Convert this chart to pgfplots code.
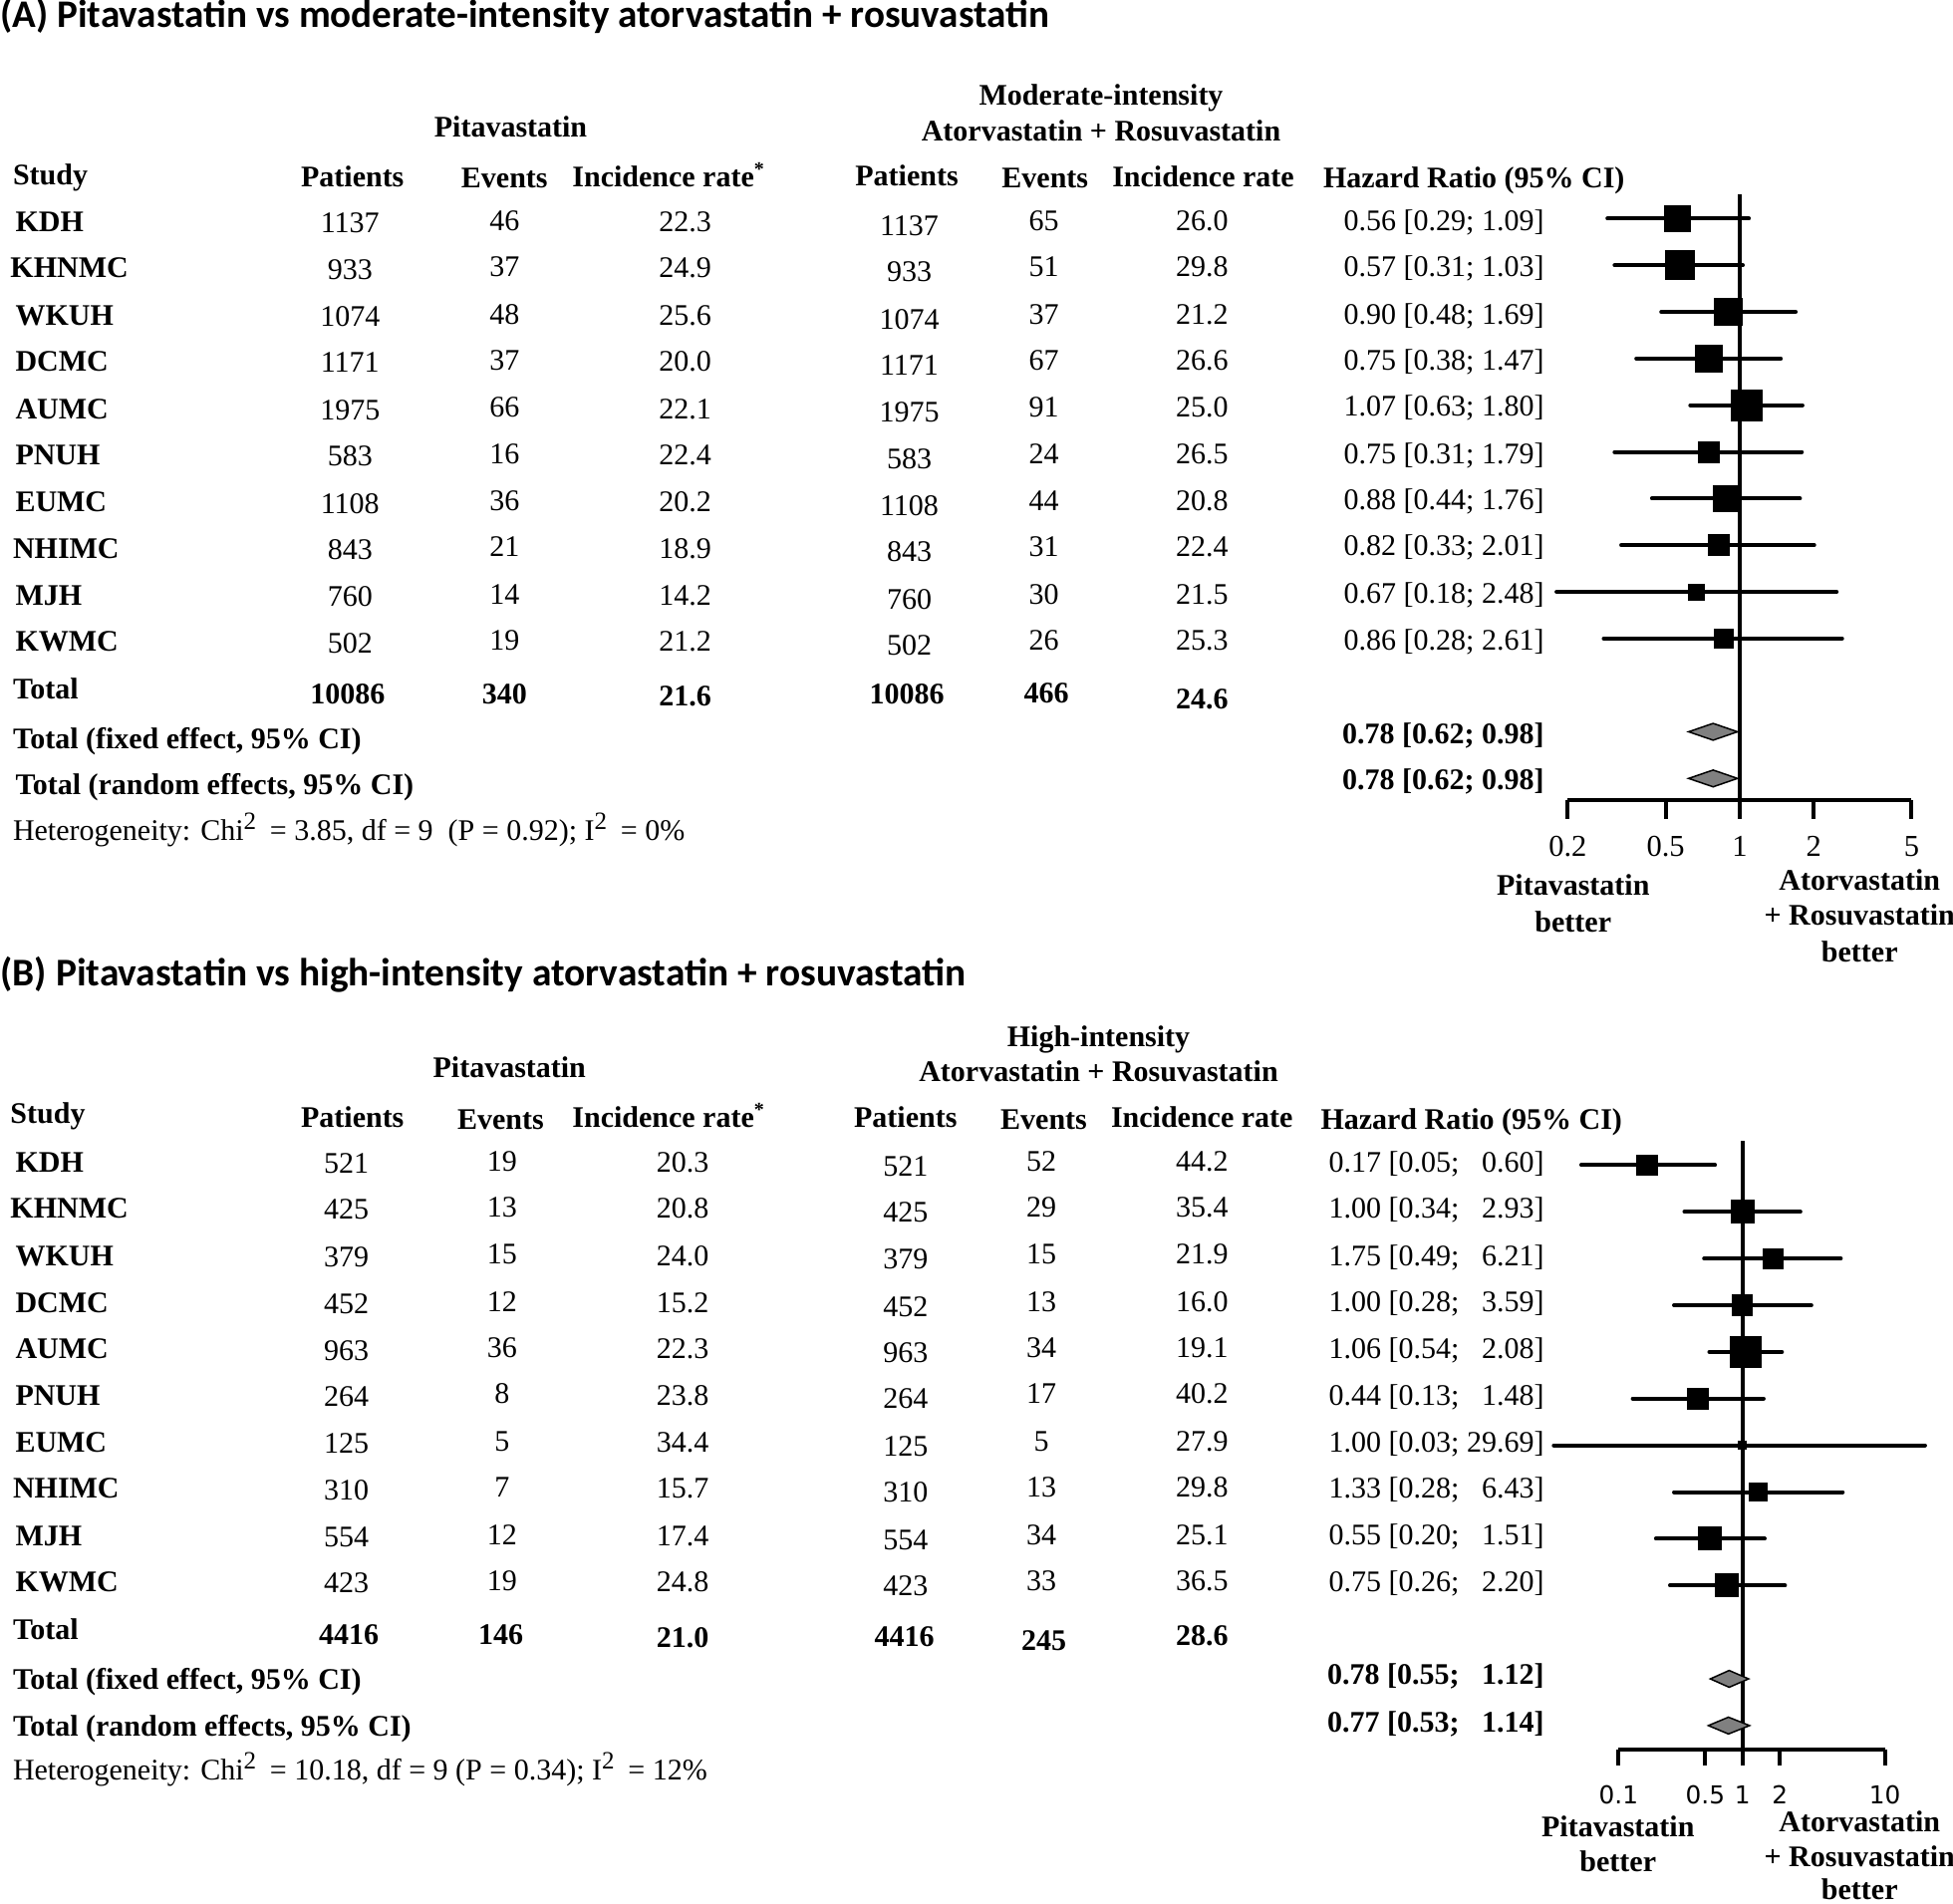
\documentclass[border=0pt]{standalone}
\usepackage{pgfplots}
\pgfplotsset{compat=1.18}
\usepackage{fontspec}
\setmainfont{Liberation Serif}
\newfontfamily\carlito{Carlito}
\newfontfamily\dejavu{DejaVu Sans}
\newcommand\ctext[3]{\node[anchor=base,inner sep=0pt] at ({#1*0.5pt},{-(#2+8)*0.5pt}) {#3};}
\newcommand\ltext[3]{\node[anchor=base west,inner sep=0pt] at ({#1*0.5pt},{-(#2+8)*0.5pt}) {#3};}
\newcommand\rtext[3]{\node[anchor=base east,inner sep=0pt] at ({#1*0.5pt},{-(#2+8)*0.5pt}) {#3};}
\newcommand\sq{\textsuperscript{\fontsize{10}{10}\selectfont 2}\,}
% y, name x, name, p1, e1, i1, p2, e2, i2
\newcommand\datarow[9]{%
 \ltext{#2}{#1}{\bfseries #3}%
 \ctext{\cPa}{#1+1}{#4}%
 \ctext{\cEa}{#1-1}{#5}%
 \ctext{\cIa}{#1}{#6}%
 \ctext{\cPb}{#1+3}{#7}%
 \ctext{\cEb}{#1-1}{#8}%
 \ctext{\cIb}{#1-1}{#9}}
% row, hr, lo, hi, mark size
\newcommand\hrrow[5]{\addplot[black, line width=1.6pt, line cap=round, mark=square*, mark size=#5pt, mark indices={2}, mark options={draw=none, fill=black}] coordinates {(#3,-#1) (#2,-#1) (#4,-#1)};}
\begin{document}
\begin{tikzpicture}[every node/.style={font=\fontsize{12}{14}\selectfont}]
\useasboundingbox (0,0) rectangle (784pt,-764pt);
% ---------------- Panel A ----------------
\node[anchor=base west, inner sep=0pt, font=\carlito\bfseries\fontsize{15.65}{18}\selectfont] at (0pt,-10.9pt) {(A) Pitavastatin vs moderate-intensity atorvastatin + rosuvastatin};
\ctext{410}{102}{\bfseries Pitavastatin}
\ctext{884}{76}{\bfseries Moderate-intensity}
\ctext{884}{105}{\bfseries Atorvastatin + Rosuvastatin}
\ltext{10}{140}{\bfseries Study}
\ctext{283}{142}{\bfseries Patients}
\ctext{405}{143}{\bfseries Events}
\ctext{537}{142}{\bfseries Incidence rate\textsuperscript{*}}
\ctext{728}{141}{\bfseries Patients}
\ctext{839}{143}{\bfseries Events}
\ctext{966}{142}{\bfseries Incidence rate}
\ltext{1062}{143}{\bfseries Hazard Ratio (95\% CI)}
\def\cPa{281}\def\cEa{405}\def\cIa{550}\def\cPb{730}\def\cEb{838}\def\cIb{965}
\datarow{178}{12}{KDH}{1137}{46}{22.3}{1137}{65}{26.0}
\datarow{215}{8}{KHNMC}{933}{37}{24.9}{933}{51}{29.8}
\datarow{253}{12}{WKUH}{1074}{48}{25.6}{1074}{37}{21.2}
\datarow{290}{12}{DCMC}{1171}{37}{20.0}{1171}{67}{26.6}
\datarow{328}{12}{AUMC}{1975}{66}{22.1}{1975}{91}{25.0}
\datarow{365}{12}{PNUH}{583}{16}{22.4}{583}{24}{26.5}
\datarow{403}{12}{EUMC}{1108}{36}{20.2}{1108}{44}{20.8}
\datarow{440}{10}{NHIMC}{843}{21}{18.9}{843}{31}{22.4}
\datarow{478}{12}{MJH}{760}{14}{14.2}{760}{30}{21.5}
\datarow{515}{12}{KWMC}{502}{19}{21.2}{502}{26}{25.3}
\ltext{10}{553}{\bfseries Total}
\ctext{279}{557}{\bfseries 10086}
\ctext{405}{557}{\bfseries 340}
\ctext{550}{559}{\bfseries 21.6}
\ctext{728}{557}{\bfseries 10086}
\ctext{840}{556}{\bfseries 466}
\ctext{965}{561}{\bfseries 24.6}
\ltext{10}{593}{\bfseries Total (fixed effect, 95\% CI)}
\ltext{12}{630}{\bfseries Total (random effects, 95\% CI)}
\ltext{10}{667}{Heterogeneity: Chi\sq\ = 3.85, df = 9\enspace(P = 0.92); I\sq\ = 0\%}
\rtext{1240}{177}{0.56 [0.29; 1.09]}
\rtext{1240}{214}{0.57 [0.31; 1.03]}
\rtext{1240}{252}{0.90 [0.48; 1.69]}
\rtext{1240}{289}{0.75 [0.38; 1.47]}
\rtext{1240}{326}{1.07 [0.63; 1.80]}
\rtext{1240}{364}{0.75 [0.31; 1.79]}
\rtext{1240}{401}{0.88 [0.44; 1.76]}
\rtext{1240}{438}{0.82 [0.33; 2.01]}
\rtext{1240}{476}{0.67 [0.18; 2.48]}
\rtext{1240}{514}{0.86 [0.28; 2.61]}
\rtext{1240}{589}{\bfseries 0.78 [0.62; 0.98]}
\rtext{1240}{626}{\bfseries 0.78 [0.62; 0.98]}
\begin{axis}[at={(629.35pt,-321.35pt)}, anchor=south west,
  scale only axis, width=138pt, height=243.35pt, clip=false,
  xmode=log, log basis x=10,
  xmin=0.2, xmax=5, ymin=-13.472, ymax=-0.479,
  axis x line*=bottom, axis y line=none,
  x axis line style={-, line width=1.6pt},
  tick align=outside, xminorticks=false,
  tick style={line width=1.6pt, black},
  major tick length=7.3pt,
  xtick={0.2,0.5,1,2,5}, xticklabels={\mbox{0.2},\mbox{0.5},\mbox{1},\mbox{2},\mbox{5}},
  xticklabel style={anchor=center, inner sep=0pt, font=\fontsize{12.2}{13}\selectfont, yshift=-11.1pt}]
\addplot[black, line width=1.4pt] coordinates {(1,-0.479) (1,-13.472)};
\hrrow{1}{0.56}{0.29}{1.09}{4.65}
\hrrow{2}{0.57}{0.31}{1.03}{5.15}
\hrrow{3}{0.90}{0.48}{1.69}{4.9}
\hrrow{4}{0.75}{0.38}{1.47}{4.7}
\hrrow{5}{1.07}{0.63}{1.80}{5.65}
\hrrow{6}{0.75}{0.31}{1.79}{3.6}
\hrrow{7}{0.88}{0.44}{1.76}{4.6}
\hrrow{8}{0.82}{0.33}{2.01}{3.6}
\hrrow{9}{0.67}{0.18}{2.48}{2.6}
\hrrow{10}{0.86}{0.28}{2.61}{3.2}
\addplot[fill=gray, draw=black, line width=0.6pt] coordinates {(0.62,-12) (0.78,-11.82) (0.98,-12) (0.78,-12.18)} -- cycle;
\addplot[fill=gray, draw=black, line width=0.6pt] coordinates {(0.62,-13) (0.78,-12.82) (0.98,-13) (0.78,-13.18)} -- cycle;
\end{axis}
\ctext{1263}{711}{\bfseries Pitavastatin}
\ctext{1263}{740}{\bfseries better}
\ctext{1493}{706.5}{\bfseries Atorvastatin}
\ctext{1493}{734.5}{\bfseries + Rosuvastatin}
\ctext{1493}{764}{\bfseries better}
% ---------------- Panel B ----------------
\node[anchor=base west, inner sep=0pt, font=\carlito\bfseries\fontsize{15.75}{18}\selectfont] at (0pt,-395.9pt) {(B) Pitavastatin vs high-intensity atorvastatin + rosuvastatin};
\ctext{409}{857}{\bfseries Pitavastatin}
\ctext{882}{832}{\bfseries High-intensity}
\ctext{882}{860}{\bfseries Atorvastatin + Rosuvastatin}
\ltext{8}{894}{\bfseries Study}
\ctext{283}{897}{\bfseries Patients}
\ctext{402}{899}{\bfseries Events}
\ctext{537}{897}{\bfseries Incidence rate\textsuperscript{*}}
\ctext{727}{897}{\bfseries Patients}
\ctext{838}{899}{\bfseries Events}
\ctext{965}{897}{\bfseries Incidence rate}
\ltext{1060}{899}{\bfseries Hazard Ratio (95\% CI)}
\def\cPa{278}\def\cEa{403}\def\cIa{548}\def\cPb{727}\def\cEb{836}\def\cIb{965}
\datarow{933}{12}{KDH}{521}{19}{20.3}{521}{52}{44.2}
\datarow{970}{8}{KHNMC}{425}{13}{20.8}{425}{29}{35.4}
\datarow{1008}{12}{WKUH}{379}{15}{24.0}{379}{15}{21.9}
\datarow{1046}{12}{DCMC}{452}{12}{15.2}{452}{13}{16.0}
\datarow{1083}{12}{AUMC}{963}{36}{22.3}{963}{34}{19.1}
\datarow{1120}{12}{PNUH}{264}{8}{23.8}{264}{17}{40.2}
\datarow{1158}{12}{EUMC}{125}{5}{34.4}{125}{5}{27.9}
\datarow{1195}{10}{NHIMC}{310}{7}{15.7}{310}{13}{29.8}
\datarow{1233}{12}{MJH}{554}{12}{17.4}{554}{34}{25.1}
\datarow{1270}{12}{KWMC}{423}{19}{24.8}{423}{33}{36.5}
\ltext{10}{1308}{\bfseries Total}
\ctext{280}{1312}{\bfseries 4416}
\ctext{402}{1312}{\bfseries 146}
\ctext{548}{1315}{\bfseries 21.0}
\ctext{726}{1314}{\bfseries 4416}
\ctext{838}{1317}{\bfseries 245}
\ctext{965}{1313}{\bfseries 28.6}
\ltext{10}{1348}{\bfseries Total (fixed effect, 95\% CI)}
\ltext{10}{1386}{\bfseries Total (random effects, 95\% CI)}
\ltext{10}{1421}{Heterogeneity: Chi\sq\ = 10.18, df = 9 (P = 0.34); I\sq\ = 12\%}
\rtext{1240}{933}{0.17 [0.05; \phantom{0}0.60]}
\rtext{1240}{970}{1.00 [0.34; \phantom{0}2.93]}
\rtext{1240}{1008}{1.75 [0.49; \phantom{0}6.21]}
\rtext{1240}{1045}{1.00 [0.28; \phantom{0}3.59]}
\rtext{1240}{1083}{1.06 [0.54; \phantom{0}2.08]}
\rtext{1240}{1120}{0.44 [0.13; \phantom{0}1.48]}
\rtext{1240}{1158}{1.00 [0.03; 29.69]}
\rtext{1240}{1195}{1.33 [0.28; \phantom{0}6.43]}
\rtext{1240}{1232}{0.55 [0.20; \phantom{0}1.51]}
\rtext{1240}{1270}{0.75 [0.26; \phantom{0}2.20]}
\rtext{1240}{1344}{\bfseries 0.78 [0.55; \phantom{0}1.12]}
\rtext{1240}{1383}{\bfseries 0.77 [0.53; \phantom{0}1.14]}
\begin{axis}[at={(649.75pt,-702.5pt)}, anchor=south west,
  scale only axis, width=106.9pt, height=244.5pt, clip=false,
  xmode=log, log basis x=10,
  xmin=0.1, xmax=14.08, ymin=-13.52, ymax=-0.48,
  axis x line*=bottom, axis y line=none,
  x axis line style={-, line width=1.6pt},
  tick align=outside, xminorticks=false,
  tick style={line width=1.6pt, black},
  major tick length=6.2pt,
  xtick={0.1,0.5,1,2,14.08}, xticklabels={\mbox{0.1},\mbox{0.5},\mbox{1},\mbox{2},\mbox{10}},
  xticklabel style={anchor=center, inner sep=0pt, font=\dejavu\fontsize{9.9}{11}\selectfont, yshift=-11.7pt}]
\addplot[black, line width=1.4pt] coordinates {(1,-0.48) (1,-13.52)};
\hrrow{1}{0.17}{0.05}{0.60}{3.5}
\hrrow{2}{1.00}{0.34}{2.93}{4.0}
\hrrow{3}{1.75}{0.49}{6.21}{3.4}
\hrrow{4}{1.00}{0.28}{3.59}{3.45}
\hrrow{5}{1.06}{0.54}{2.08}{5.65}
\hrrow{6}{0.44}{0.13}{1.48}{3.6}
\hrrow{7}{1.00}{0.03}{29.69}{1.0}
\hrrow{8}{1.33}{0.28}{6.43}{2.95}
\hrrow{9}{0.55}{0.20}{1.51}{4.0}
\hrrow{10}{0.75}{0.26}{2.20}{4.0}
\addplot[fill=gray, draw=black, line width=0.6pt] coordinates {(0.55,-12) (0.78,-11.82) (1.12,-12) (0.78,-12.18)} -- cycle;
\addplot[fill=gray, draw=black, line width=0.6pt] coordinates {(0.53,-13) (0.77,-12.82) (1.14,-13) (0.77,-13.18)} -- cycle;
\end{axis}
\ctext{1299}{1466.5}{\bfseries Pitavastatin}
\ctext{1299}{1494.7}{\bfseries better}
\ctext{1493}{1462.7}{\bfseries Atorvastatin}
\ctext{1493}{1490.7}{\bfseries + Rosuvastatin}
\ctext{1493}{1517}{\bfseries better}
\end{tikzpicture}
\end{document}
